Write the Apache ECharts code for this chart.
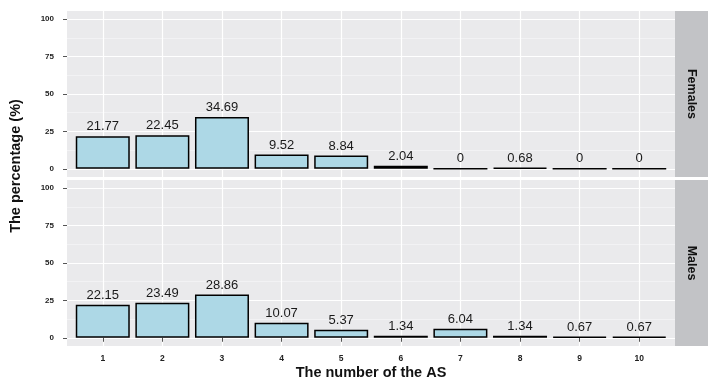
<!DOCTYPE html>
<html><head><meta charset="utf-8">
<script src="https://cdn.jsdelivr.net/npm/echarts@6/dist/echarts.min.js"></script>
<style>html,body{margin:0;padding:0;background:#fff}#c{width:708px;height:386px}</style>
</head><body><div id="c"></div>
<script>
const categories = [1, 2, 3, 4, 5, 6, 7, 8, 9, 10];
const females = [21.77, 22.45, 34.69, 9.52, 8.84, 2.04, 0, 0.68, 0, 0];
const males = [22.15, 23.49, 28.86, 10.07, 5.37, 1.34, 6.04, 1.34, 0.67, 0.67];
const yTicks = [0, 25, 50, 75, 100];
const yMinor = [12.5, 37.5, 62.5, 87.5];
const panelNames = ['Females', 'Males'];
const xTitle = 'The number of the AS';
const yTitle = 'The percentage (%)';

const FONT = '"Liberation Sans", Arial, sans-serif';
const panelData = [females, males];
const gridTops = [11, 180];
const gridH = 166;
const gridLeft = 67, gridW = 608;

const grids = [], xAxes = [], yAxes = [], series = [], graphics = [];
panelData.forEach((vals, i) => {
  grids.push({left: gridLeft, top: gridTops[i], width: gridW, height: gridH,
    show: true, backgroundColor: '#EAEAEC', borderWidth: 0});
  xAxes.push({type: 'value', gridIndex: i, min: 0.4, max: 10.6,
    axisLine: {show: false},
    axisTick: {show: i === 1, customValues: categories, length: 4, lineStyle: {color: '#555', width: 1}},
    axisLabel: {show: i === 1, customValues: categories, fontSize: 8.5, fontWeight: 'bold', color: '#222', fontFamily: FONT, margin: 8},
    splitLine: {show: true, lineStyle: {color: '#FFFFFF', width: 1.2}}
  });
  yAxes.push({type: 'value', gridIndex: i, min: -5.5, max: 105.5, position: 'left',
    axisLine: {show: false},
    axisTick: {show: true, customValues: yTicks, length: 4, lineStyle: {color: '#555', width: 1}},
    axisLabel: {show: true, customValues: yTicks, fontSize: 8, fontWeight: 'bold', color: '#222', fontFamily: FONT, margin: 13},
    splitLine: {show: true, lineStyle: {color: '#FFFFFF', width: 1.2}}
  });
  yAxes.push({type: 'value', gridIndex: i, min: -5.5, max: 105.5, position: 'right',
    axisLine: {show: false},
    axisTick: {show: false, customValues: yMinor},
    axisLabel: {show: false, customValues: yMinor},
    splitLine: {show: true, lineStyle: {color: '#F4F4F6', width: 0.8}}
  });
  series.push({type: 'bar', xAxisIndex: i, yAxisIndex: 2 * i,
    data: categories.map((c, k) => [c, vals[k]]),
    barWidth: 54,
    itemStyle: {color: '#ADD8E6', borderColor: '#000', borderWidth: 1.5},
    label: {show: true, position: 'top', distance: 3, fontSize: 13, color: '#1a1a1a', fontFamily: FONT,
      formatter: p => String(p.value[1])},
    z: 3
  });
  graphics.push({type: 'rect', shape: {x: gridLeft + gridW, y: gridTops[i], width: 33, height: gridH},
    style: {fill: '#C2C3C6'}, silent: true});
  graphics.push({type: 'text', x: gridLeft + gridW + 16.5, y: gridTops[i] + gridH / 2, rotation: -Math.PI / 2,
    style: {text: panelNames[i], fontSize: 12.5, fontWeight: 'bold', fill: '#111', fontFamily: FONT,
      align: 'center', verticalAlign: 'middle'}});
});
graphics.push({type: 'text', x: 371, y: 373,
  style: {text: xTitle, fontSize: 14.5, fontWeight: 'bold', fill: '#111', fontFamily: FONT, align: 'center', verticalAlign: 'middle'}});
graphics.push({type: 'text', x: 16, y: 166, rotation: Math.PI / 2,
  style: {text: yTitle, fontSize: 14.5, fontWeight: 'bold', fill: '#111', fontFamily: FONT, align: 'center', verticalAlign: 'middle'}});

const chart = echarts.init(document.getElementById('c'), null, {renderer: 'canvas'});
chart.setOption({
  animation: false,
  backgroundColor: '#FFFFFF',
  grid: grids, xAxis: xAxes, yAxis: yAxes, series: series, graphic: graphics
});
</script></body></html>
